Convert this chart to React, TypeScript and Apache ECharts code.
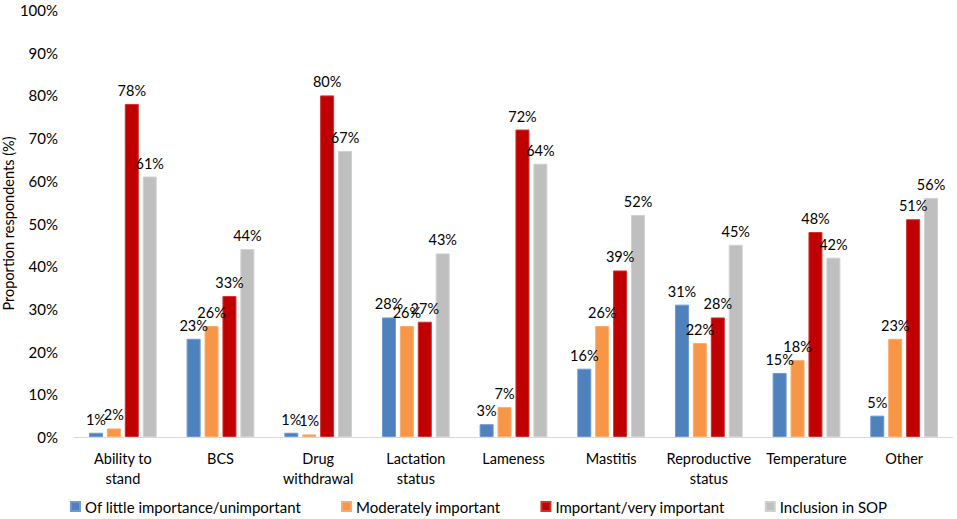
import React, { useEffect, useRef } from "react";
import * as echarts from "echarts";

const categories = [
  "Ability to\nstand",
  "BCS",
  "Drug\nwithdrawal",
  "Lactation\nstatus",
  "Lameness",
  "Mastitis",
  "Reproductive\nstatus",
  "Temperature",
  "Other",
];
const seriesNames = [
  "Of little importance/unimportant",
  "Moderately important",
  "Important/very important",
  "Inclusion in SOP",
];
const littleImportance = [1, 23, 1, 28, 3, 16, 31, 15, 5];
const moderatelyImportant = [2, 26, 0.6, 26, 7, 26, 22, 18, 23];
const veryImportant = [78, 33, 80, 27, 72, 39, 28, 48, 51];
const inclusionSOP = [61, 44, 67, 43, 64, 52, 45, 42, 56];
const colors = ["#4F81BD", "#F79646", "#C00000", "#BFBFBF"];
const borders = ["#6E9AD0", "#F9AB6E", "#D03030", "#D0D0D0"];
const yTicks = [0, 10, 20, 30, 40, 50, 60, 70, 80, 90, 100];

const FONT = "Lato, 'Open Sans', sans-serif";
const FS = 14.5;

export default function App() {
  const ref = useRef<HTMLDivElement>(null);
  useEffect(() => {
    document.body.style.margin = "0";
    if (!ref.current) return;
    const chart = echarts.init(ref.current, undefined, { renderer: "svg" });
    const data = [littleImportance, moderatelyImportant, veryImportant, inclusionSOP];
    chart.setOption({
      animation: false,
      textStyle: { fontFamily: FONT },
      grid: { left: 74, right: 4, top: 10, bottom: 82, containLabel: false, outerBoundsMode: "none" },
      legend: {
        bottom: 0,
        left: "center",
        itemWidth: 9,
        itemHeight: 9,
        itemGap: 40,
        icon: "rect",
        textStyle: { fontSize: 15, color: "#000", fontFamily: FONT },
        data: seriesNames,
      },
      xAxis: {
        type: "category",
        data: categories,
        axisLine: { lineStyle: { color: "#D9D9D9", width: 1 } },
        axisTick: { show: false },
        axisLabel: {
          fontSize: FS,
          color: "#000",
          fontFamily: FONT,
          interval: 0,
          margin: 11,
          lineHeight: 20,
        },
      },
      yAxis: {
        type: "value",
        min: 0,
        max: 100,
        interval: 10,
        name: "Proportion respondents (%)",
        nameLocation: "middle",
        nameGap: 58,
        nameMoveOverlap: false,
        nameTextStyle: { fontSize: FS, color: "#000", fontFamily: FONT },
        axisLine: { show: false },
        axisTick: { show: false },
        splitLine: { show: false },
        axisLabel: {
          fontSize: 15,
          color: "#000",
          fontFamily: FONT,
          margin: 16,
          formatter: (v: number) => (yTicks.includes(v) ? v + "%" : ""),
        },
      },
      series: seriesNames.map((name, i) => ({
        name,
        type: "bar",
        data: data[i],
        barWidth: 14,
        barGap: "28%",
        itemStyle: { color: colors[i], borderColor: borders[i], borderWidth: 1 },
        label: {
          show: true,
          position: "top",
          distance: 6,
          fontSize: FS,
          color: "#000",
          fontFamily: FONT,
          formatter: (p: any) => Math.round(p.value) + "%",
        },
      })),
    });
    return () => chart.dispose();
  }, []);
  return <div ref={ref} style={{ width: 957, height: 519 }} />;
}
